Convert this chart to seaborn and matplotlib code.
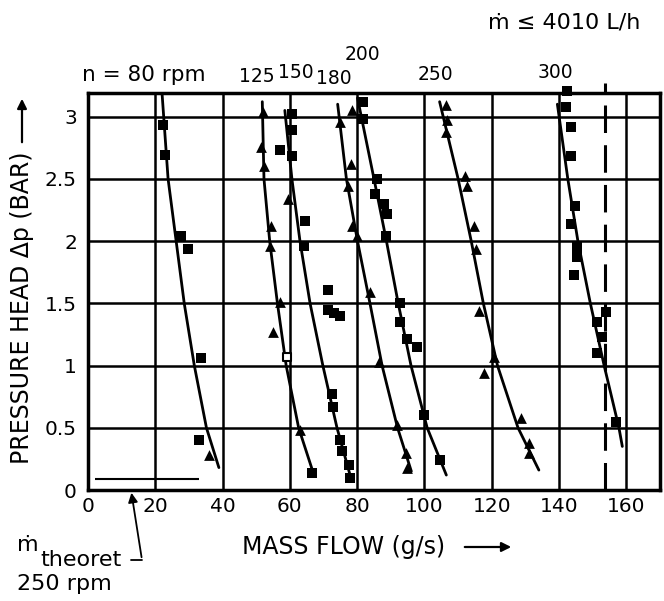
import numpy as np
import pandas as pd
import matplotlib
matplotlib.use("Agg")
import matplotlib.pyplot as plt
import seaborn as sns

# ---------------- data ----------------
speeds = ["80", "125", "150", "180", "200", "250", "300"]

curve_80_x = [22.0, 23.8, 26.2, 28.6, 31.6, 35.2, 38.9]
curve_80_y = [3.19, 2.5, 2.0, 1.5, 1.0, 0.5, 0.18]
curve_125_x = [51.8, 52.3, 54.0, 56.3, 58.9, 62.6, 66.8]
curve_125_y = [3.12, 2.5, 2.0, 1.5, 1.0, 0.5, 0.15]
curve_150_x = [58.5, 60.6, 63.0, 66.0, 69.8, 74.0, 78.3]
curve_150_y = [3.05, 2.5, 2.0, 1.5, 1.0, 0.5, 0.08]
curve_180_x = [74.2, 76.8, 80.1, 83.8, 87.4, 92.0, 96.1]
curve_180_y = [3.1, 2.5, 2.0, 1.5, 1.0, 0.5, 0.15]
curve_200_x = [80.1, 85.0, 88.7, 92.2, 96.0, 100.8, 106.5]
curve_200_y = [3.15, 2.5, 2.0, 1.5, 1.0, 0.5, 0.12]
curve_250_x = [104.5, 110.0, 113.9, 117.5, 121.7, 127.8, 134.0]
curve_250_y = [3.12, 2.5, 2.0, 1.5, 1.0, 0.5, 0.16]
curve_300_x = [139.5, 142.6, 145.6, 149.3, 153.4, 157.8, 158.8]
curve_300_y = [3.1, 2.5, 2.0, 1.5, 1.0, 0.5, 0.35]

square_x = [22.3, 22.8, 27.6, 29.7, 33.5, 32.9,
            66.5,
            60.5, 60.5, 57.0, 60.5, 64.4, 64.1, 72.4, 72.7, 74.8, 75.4, 77.7, 78.0,
            71.2, 71.2, 73.0, 74.8,
            81.6, 81.6, 86.0, 85.2, 88.1, 89.0, 88.7, 92.6, 92.6, 94.7, 97.9, 100.0, 104.5,
            142.1, 143.6, 143.6, 144.8, 143.6, 145.4, 145.4, 144.5, 154.0, 151.3, 152.8, 151.3, 157.0,
            142.4]
square_y = [2.93, 2.69, 2.04, 1.94, 1.06, 0.40,
            0.14,
            3.02, 2.89, 2.73, 2.68, 2.16, 1.96, 0.77, 0.67, 0.40, 0.31, 0.20, 0.10,
            1.61, 1.45, 1.42, 1.40,
            3.12, 2.98, 2.50, 2.38, 2.30, 2.22, 2.04, 1.50, 1.35, 1.21, 1.15, 0.60, 0.24,
            3.08, 2.92, 2.68, 2.28, 2.14, 1.95, 1.87, 1.73, 1.43, 1.35, 1.23, 1.10, 0.55,
            3.21]

triangle_x = [35.9,
              51.9, 51.4, 52.2, 54.3, 54.0, 57.0, 55.0, 62.9,
              59.3,
              74.8, 78.5, 78.3, 77.4, 78.6, 79.8, 83.7, 86.6, 91.7, 94.6, 94.7,
              106.5, 106.8, 106.5, 111.9, 112.5, 114.8, 115.4, 116.3, 120.8, 117.8, 128.8, 131.2, 131.2]
triangle_y = [0.28,
              3.04, 2.76, 2.60, 2.12, 1.96, 1.51, 1.27, 0.48,
              2.34,
              2.96, 3.05, 2.62, 2.44, 2.12, 2.04, 1.59, 1.03, 0.52, 0.30, 0.18,
              3.09, 2.97, 2.88, 2.52, 2.44, 2.12, 1.94, 1.44, 1.07, 0.94, 0.58, 0.38, 0.30]

open_x = [59.0]
open_y = [1.07]

x_ticks = [0, 20, 40, 60, 80, 100, 120, 140, 160]
y_ticks = [0, 0.5, 1, 1.5, 2, 2.5, 3]
y_tick_labels = ["0", "0.5", "1", "1.5", "2", "2.5", "3"]
speed_labels = ["n = 80 rpm", "125", "150", "180", "200", "250", "300"]
x_limit_line = 153.7
theoret_line_y = 0.09
theoret_line_x = [2.0, 33.0]

# ---------------- build frames ----------------
curves = {
    "80": (curve_80_x, curve_80_y), "125": (curve_125_x, curve_125_y),
    "150": (curve_150_x, curve_150_y), "180": (curve_180_x, curve_180_y),
    "200": (curve_200_x, curve_200_y), "250": (curve_250_x, curve_250_y),
    "300": (curve_300_x, curve_300_y),
}
curve_df = pd.concat(
    [pd.DataFrame({"x": cx, "y": cy, "speed": s})
     for s, (cx, cy) in curves.items()], ignore_index=True)
sq_df = pd.DataFrame({"x": square_x, "y": square_y})
tri_df = pd.DataFrame({"x": triangle_x, "y": triangle_y})
open_df = pd.DataFrame({"x": open_x, "y": open_y})

# ---------------- figure ----------------
W, H = 664, 601
sns.set_theme(style="white")
plt.rcParams["font.family"] = ["DejaVu Sans"]
fig = plt.figure(figsize=(W / 100, H / 100), dpi=100)
ax = fig.add_axes([88 / W, 1 - 490 / H, (660 - 88) / W, (490 - 93) / H])

for s in speeds:
    sub = curve_df[curve_df["speed"] == s]
    sns.lineplot(data=sub, x="x", y="y", sort=False, color="black",
                 linewidth=2.0, ax=ax, legend=False, estimator=None)

sns.scatterplot(data=sq_df, x="x", y="y", marker="s", s=55, color="black",
                edgecolor="black", linewidth=0, ax=ax, zorder=5, clip_on=False)
sns.scatterplot(data=tri_df, x="x", y="y", marker="^", s=60, color="black",
                edgecolor="black", linewidth=0, ax=ax, zorder=5)
sns.scatterplot(data=open_df, x="x", y="y", marker="s", s=36, color="white",
                edgecolor="black", linewidth=1.5, ax=ax, zorder=6)

ax.set_xlim(0, 170)
ax.set_ylim(0, 3.19)
ax.set_xticks(x_ticks)
ax.set_yticks(y_ticks)
ax.set_yticklabels(y_tick_labels)
ax.grid(True, color="black", linewidth=1.8)
ax.set_axisbelow(True)
for sp in ax.spines.values():
    sp.set_color("black")
    sp.set_linewidth(2.5)
ax.tick_params(length=0, labelsize=14.5, colors="black")
ax.tick_params(axis="y", pad=8)
ax.tick_params(axis="x", pad=5)
ax.set_xlabel("")
ax.set_ylabel("")

# dashed limit line
ax.axvline(x_limit_line, ymin=0, ymax=1.025, color="black", linewidth=2.2,
           dashes=(9, 4), clip_on=False, zorder=4)
# theoretical line near the bottom
ax.hlines(theoret_line_y, theoret_line_x[0], theoret_line_x[1], color="black", linewidth=1.5)


def fx(px):
    return px / W


def fy(py):
    return 1 - py / H


big = dict(color="black", fontsize=17)
mid = dict(color="black", fontsize=13.5)
fig.text(fx(82), fy(75), speed_labels[0], ha="left", va="center", fontsize=15.5, color="black")
fig.text(fx(257), fy(76), speed_labels[1], ha="center", va="center", **mid)
fig.text(fx(296), fy(72), speed_labels[2], ha="center", va="center", **mid)
fig.text(fx(334), fy(78), speed_labels[3], ha="center", va="center", **mid)
fig.text(fx(362), fy(55), speed_labels[4], ha="center", va="center", **mid)
fig.text(fx(435), fy(75), speed_labels[5], ha="center", va="center", **mid)
fig.text(fx(555), fy(72), speed_labels[6], ha="center", va="center", **mid)
fig.text(fx(640), fy(22), "ṁ ≤ 4010 L/h", ha="right", va="center", fontsize=16, color="black")

# axis labels with arrows
fig.text(fx(22), fy(308), "PRESSURE HEAD Δp (BAR)", rotation=90,
         ha="center", va="center", **big)
fig.add_artist(matplotlib.patches.FancyArrowPatch(
    (fx(22), fy(145)), (fx(22), fy(96)), transform=fig.transFigure,
    arrowstyle="-|>", mutation_scale=14, color="black", linewidth=1.6))
fig.text(fx(344), fy(547), "MASS FLOW (g/s)", ha="center", va="center", **big)
fig.add_artist(matplotlib.patches.FancyArrowPatch(
    (fx(462), fy(547)), (fx(514), fy(547)), transform=fig.transFigure,
    arrowstyle="-|>", mutation_scale=14, color="black", linewidth=1.6))

# theoretical flow annotation
fig.text(fx(17), fy(545), "ṁ", ha="left", va="center", fontsize=16, color="black")
fig.text(fx(40), fy(560), "theoret", ha="left", va="center", fontsize=16, color="black")
fig.add_artist(matplotlib.lines.Line2D([fx(131), fx(142)], [fy(560), fy(560)],
                                       transform=fig.transFigure, color="black", linewidth=1.3))
fig.add_artist(matplotlib.patches.FancyArrowPatch(
    (fx(142), fy(560)), (fx(131), fy(490)), transform=fig.transFigure,
    arrowstyle="-|>", mutation_scale=14, color="black", linewidth=1.3))
fig.text(fx(17), fy(584), "250 rpm", ha="left", va="center", fontsize=16, color="black")

fig.savefig("out.png", dpi=100)
